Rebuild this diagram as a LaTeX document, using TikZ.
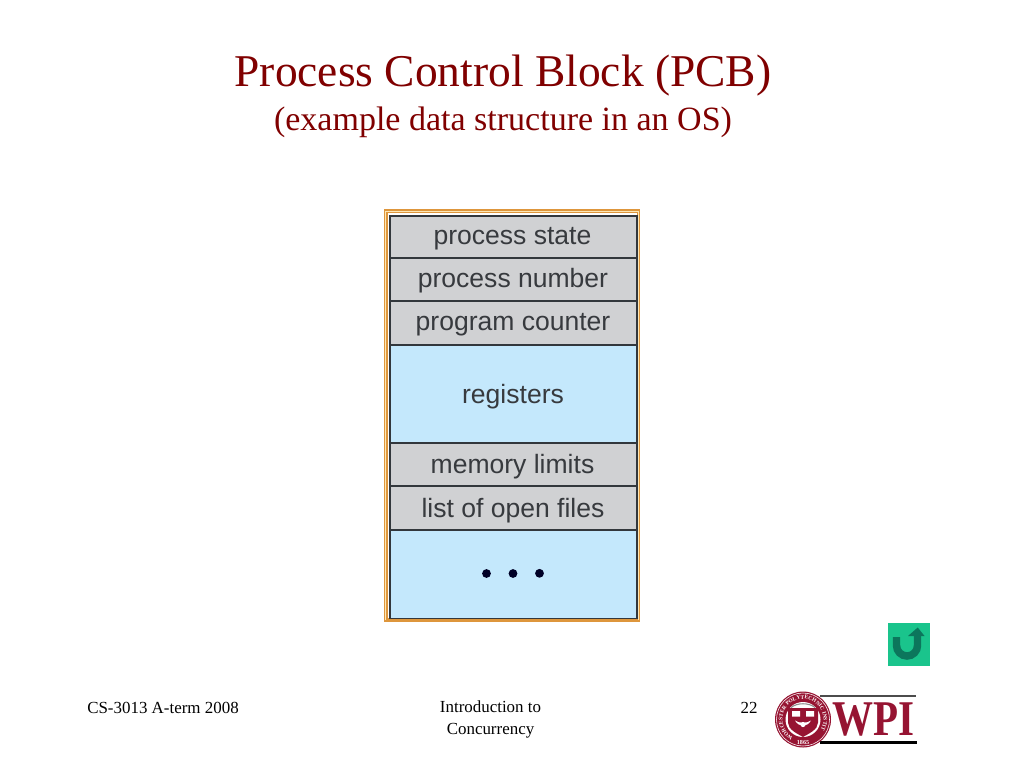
\documentclass[tikz,border=0pt]{standalone}
\usepackage{fontspec}
\setmainfont{Liberation Serif}
\newfontfamily\diagfont{Liberation Sans}
\usetikzlibrary{decorations.text}
\definecolor{titlered}{RGB}{128,0,0}
\definecolor{cellgray}{RGB}{208,209,211}
\definecolor{cellblue}{RGB}{196,232,252}
\definecolor{cellline}{RGB}{50,55,60}
\definecolor{celltext}{RGB}{55,58,62}
\definecolor{frameorange}{RGB}{222,150,60}
\definecolor{framelight}{RGB}{252,232,185}
\definecolor{btngreen}{RGB}{26,196,140}
\definecolor{btndark}{RGB}{12,118,92}
\definecolor{wpired}{RGB}{150,20,50}
\tikzset{
  cellbox/.style={draw=cellline,line width=1.25pt,minimum width=185.25pt,anchor=north west,inner sep=0pt},
  grayc/.style={cellbox,fill=cellgray},
  bluec/.style={cellbox,fill=cellblue},
  celllabel/.style={font=\diagfont\fontsize{19.9pt}{22pt}\selectfont,text=celltext,inner sep=0pt},
  foot/.style={font=\fontsize{12.7pt}{15.75pt}\selectfont,text=black,align=center,inner sep=0pt},
}
\begin{document}
\begin{tikzpicture}[x=0.75pt,y=-0.75pt]
\useasboundingbox (0,0) rectangle (1024,768);
\fill[white] (0,0) rectangle (1024,768);
% titles
\node[font=\fontsize{34.1pt}{36pt}\selectfont,text=titlered,inner sep=0pt] (title) at (503,76) {Process Control Block (PCB)};
\node[font=\fontsize{25.5pt}{28pt}\selectfont,text=titlered,inner sep=0pt] (subtitle) at (503,122.5) {(example data structure in an OS)};
% frame
\draw[draw=frameorange,fill=framelight,line width=1pt] (384.5,210) rectangle (639.5,621);
\draw[draw=frameorange,fill=white,line width=0.9pt] (387,212.5) rectangle (637.5,619);
% cells
\node[grayc,minimum height=31.5pt] (c1) at (389,215) {};
\node[grayc,minimum height=32.25pt] (c2) at (389,257) {};
\node[grayc,minimum height=33pt] (c3) at (389,300) {};
\node[bluec,minimum height=73.5pt] (c4) at (389,344) {};
\node[grayc,minimum height=32.25pt] (c5) at (389,442) {};
\node[grayc,minimum height=33pt] (c6) at (389,485) {};
\node[bluec,minimum height=66.4pt] (c7) at (389,529) {};
\node[celllabel] (l1) at (512.5,238.5) {process state};
\node[celllabel] (l2) at (513,281) {process number};
\node[celllabel] (l3) at (513,324.5) {program counter};
\node[celllabel] (l4) at (513,396.5) {registers};
\node[celllabel] (l5) at (512.5,467) {memory limits};
\node[celllabel] (l6) at (513,510.5) {list of open files};
\fill[black!85!blue] (486.5,573.5) circle (4.4) (513,573.5) circle (4.4) (539.5,573.3) circle (4.4);
% button
\fill[btngreen] (887.5,623) rectangle (930,665.5);
\draw[btndark,line width=5.6pt] (896.5,637) -- (896.5,645.5) arc[start angle=180,end angle=0,x radius=10.5,y radius=10.5] -- (917.5,634);
\fill[btndark] (908,636) -- (917.7,627.5) -- (924.5,636) -- cycle;
% footer
\node[foot,anchor=base west] (f1) at (87,713) {CS-3013 A-term 2008};
\node[foot,anchor=north] (f2) at (490.5,700) {Introduction to\\[1.2pt]Concurrency};
\node[foot,anchor=base] (f3) at (749,713) {22};
% logo
\draw[line width=0.9pt,black!70] (820,696) -- (916,696);
\draw[line width=1.6pt,black] (820,742.5) -- (916.5,742.5);
\node[font=\bfseries\fontsize{37.5pt}{40pt}\selectfont,text=wpired,inner sep=0pt,xscale=0.82] (wpi) at (873,719.5) {WPI};
\begin{scope}[shift={(803,719.5)},x=0.75pt,y=0.75pt]
  \fill[wpired] (0,0) circle (28);
  \draw[white,line width=0.4pt] (0,0) circle (26.5);
  \fill[white] (0,0) circle (17.5);
  \path[decorate,decoration={text along path,text align=center,
    text={|\fontsize{4.1pt}{4.5pt}\selectfont\bfseries\color{white}|WORCESTER POLYTECHNIC INSTITUTE}}]
    (215:20.5) arc[start angle=215,end angle=-35,radius=20.5];
  \node[font=\bfseries\fontsize{4.6pt}{5pt}\selectfont,text=white,inner sep=0pt] (yr) at (0,-22.5) {1865};
  \draw[black!45,line width=0.8pt] (-12,12) .. controls (-6,17) and (6,17) .. (12,12);
  \fill[wpired] (-15,11.5) -- (15,11.5) -- (15,-3) .. controls (15,-10) and (6,-14) .. (0,-17.5) .. controls (-6,-14) and (-15,-10) .. (-15,-3) -- cycle;
  \fill[white] (-11,8.5) rectangle (-3,3) (3,8.5) rectangle (11,3);
  \fill[white] (-8,-1) .. controls (-4,-8) and (4,-8) .. (8,-1) .. controls (4,-4) and (-4,-4) .. (-8,-1) -- cycle;
  \fill[white] (0,-5) circle (2.6);
\end{scope}
\end{tikzpicture}
\end{document}
